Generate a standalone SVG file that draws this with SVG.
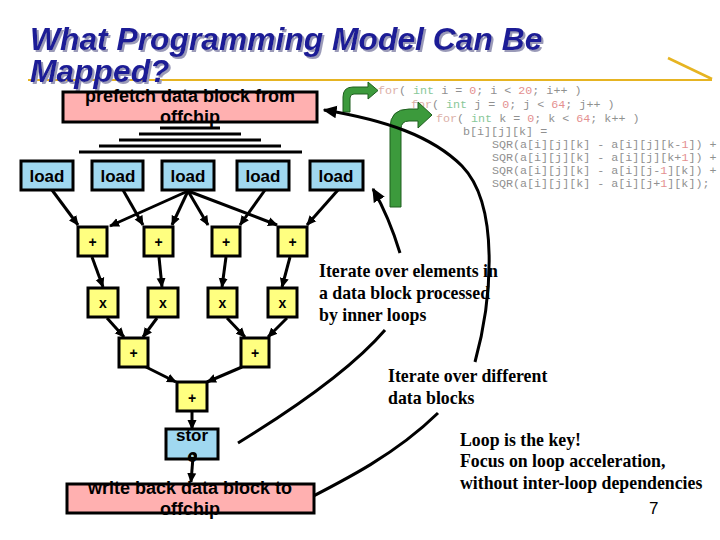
<svg xmlns="http://www.w3.org/2000/svg" width="720" height="540" viewBox="0 0 720 540">
<style>
.title{font-family:"Liberation Sans",Arial,sans-serif;font-weight:bold;font-style:italic;font-size:31.8px;fill:#1c1c96}
.nt{font-family:"Liberation Sans",Arial,sans-serif;font-weight:bold;fill:#000}
.box{stroke:#000;stroke-width:3}
.pink{fill:#ffb0b0}
.blue{fill:#a0d8f0}
.yel{fill:#ffff80}
.code{font-family:"Liberation Mono","Courier New",monospace;font-size:11.7px;fill:#909090}
.kw{fill:#dcb0a8}
.ty{fill:#88c898}
.num{fill:#e49090}
.lbl{font-family:"Liberation Serif","Times New Roman",serif;font-weight:bold;font-size:17.8px;fill:#000}
.edge{stroke:#000;stroke-width:3;fill:none}
.green{fill:#3c9a3c;stroke:#1e5e1e;stroke-width:1}
</style>
<defs>
<marker id="ah" viewBox="0 0 10 10" refX="9" refY="5" markerWidth="10" markerHeight="10" markerUnits="userSpaceOnUse" orient="auto"><path d="M0,0.5 L10,5 L0,9.5 z" fill="#000"/></marker>
<marker id="ahb" viewBox="0 0 10 10" refX="9" refY="5" markerWidth="14" markerHeight="14" markerUnits="userSpaceOnUse" orient="auto"><path d="M0,0.5 L10,5 L0,9.5 z" fill="#000"/></marker>
<filter id="shadow" x="-5%" y="-20%" width="110%" height="150%">
<feOffset in="SourceAlpha" dx="2" dy="2" result="o"/>
<feFlood flood-color="#9a9ab8"/>
<feComposite in2="o" operator="in" result="s"/>
<feMerge><feMergeNode in="s"/><feMergeNode in="SourceGraphic"/></feMerge>
</filter>
</defs>
<rect width="720" height="540" fill="#fff"/>

<g id="title-bar">
<line x1="28" y1="80" x2="712" y2="80" stroke="#e6b422" stroke-width="2"/>
<line x1="668" y1="58" x2="712" y2="79" stroke="#e6b422" stroke-width="2.5"/>
<g filter="url(#shadow)">
<text class="title" x="30" y="50">What Programming Model Can Be</text>
<text class="title" x="30" y="82">Mapped?</text>
</g>
</g>

<g id="code">
<text class="code" x="378" y="94"><tspan class="kw">for</tspan>( <tspan class="ty">int</tspan> i = <tspan class="num">0</tspan>; i &lt; <tspan class="num">20</tspan>; i++ )</text>
<text class="code" x="411" y="108"><tspan class="kw">for</tspan>( <tspan class="ty">int</tspan> j = <tspan class="num">0</tspan>; j &lt; <tspan class="num">64</tspan>; j++ )</text>
<text class="code" x="436" y="122"><tspan class="kw">for</tspan>( <tspan class="ty">int</tspan> k = <tspan class="num">0</tspan>; k &lt; <tspan class="num">64</tspan>; k++ )</text>
<text class="code" x="463" y="135">b[i][j][k] =</text>
<text class="code" x="492" y="148">SQR(a[i][j][k] - a[i][j][k-<tspan class="num">1</tspan>]) +</text>
<text class="code" x="492" y="161">SQR(a[i][j][k] - a[i][j][k+<tspan class="num">1</tspan>]) +</text>
<text class="code" x="492" y="174">SQR(a[i][j][k] - a[i][j-<tspan class="num">1</tspan>][k]) +</text>
<text class="code" x="492" y="187">SQR(a[i][j][k] - a[i][j+<tspan class="num">1</tspan>][k]);</text>
</g>

<g id="green-arrows">
<path class="green" d="M343,112 L343,97 Q343,87 353,87 L368,87 L368,82 L378,90.5 L368,99 L368,94 L354,94 Q350,94 350,98 L350,112 Z"/>
<path class="green" d="M390,207 L390,128 Q390,109 409,109 L418,109 L418,102 L432,115 L418,128 L418,121 L409,121 Q401,121 401,129 L401,207 Z"/>
</g>

<g id="funnel" stroke="#000" stroke-width="3">
<line x1="160" y1="128" x2="220" y2="128"/>
<line x1="139" y1="134" x2="241" y2="134"/>
<line x1="119" y1="140" x2="261" y2="140"/>
<line x1="99" y1="146" x2="281" y2="146"/>
<line x1="79" y1="152" x2="302" y2="152"/>
</g>

<g id="connectors">
<line class="edge" x1="52" y1="190" x2="78" y2="225" marker-end="url(#ah)"/>
<line class="edge" x1="123" y1="190" x2="143" y2="225" marker-end="url(#ah)"/>
<line class="edge" x1="188" y1="191" x2="110" y2="226" marker-end="url(#ah)"/>
<line class="edge" x1="188" y1="191" x2="172" y2="225" marker-end="url(#ah)"/>
<line class="edge" x1="188" y1="191" x2="208" y2="225" marker-end="url(#ah)"/>
<line class="edge" x1="188" y1="191" x2="277" y2="225" marker-end="url(#ah)"/>
<line class="edge" x1="265" y1="190" x2="240" y2="225" marker-end="url(#ah)"/>
<line class="edge" x1="338" y1="190" x2="307" y2="225" marker-end="url(#ah)"/>
<line class="edge" x1="92" y1="257" x2="103" y2="287" marker-end="url(#ah)"/>
<line class="edge" x1="159" y1="257" x2="162" y2="287" marker-end="url(#ah)"/>
<line class="edge" x1="226" y1="257" x2="222" y2="287" marker-end="url(#ah)"/>
<line class="edge" x1="290" y1="257" x2="282" y2="287" marker-end="url(#ah)"/>
<line class="edge" x1="107" y1="318" x2="124" y2="337" marker-end="url(#ah)"/>
<line class="edge" x1="157" y1="318" x2="143" y2="337" marker-end="url(#ah)"/>
<line class="edge" x1="227" y1="318" x2="245" y2="337" marker-end="url(#ah)"/>
<line class="edge" x1="287" y1="318" x2="268" y2="337" marker-end="url(#ah)"/>
<line class="edge" x1="146" y1="367" x2="176" y2="382" marker-end="url(#ah)"/>
<line class="edge" x1="242" y1="367" x2="207" y2="382" marker-end="url(#ah)"/>
<line class="edge" x1="192" y1="412" x2="192" y2="429" marker-end="url(#ah)"/>
<line class="edge" x1="193" y1="457" x2="191" y2="482" marker-end="url(#ah)"/>
<path class="edge" d="M475,362 C492,300 500,205 462,166 C432,136 385,120 324,110" marker-end="url(#ahb)"/>
<path class="edge" d="M400,253 C393,230 385,210 373,189" marker-end="url(#ahb)"/>
<path class="edge" d="M385,330 C355,365 300,405 238,443"/>
<path class="edge" d="M438,413 C395,455 345,480 292,507"/>
</g>

<g id="prefetch">
<rect class="box pink" x="63" y="92" width="254" height="30"/>
<text class="nt" x="190" y="102" font-size="18" text-anchor="middle">prefetch data block from</text>
<text class="nt" x="190" y="123" font-size="18" text-anchor="middle">offchip</text>
</g>

<g id="load1"><rect class="box blue" x="21" y="161" width="52" height="29"/><text class="nt" x="47" y="182" font-size="17" text-anchor="middle">load</text></g>
<g id="load2"><rect class="box blue" x="92" y="161" width="51" height="29"/><text class="nt" x="118" y="182" font-size="17" text-anchor="middle">load</text></g>
<g id="load3"><rect class="box blue" x="162" y="161" width="52" height="29"/><text class="nt" x="188" y="182" font-size="17" text-anchor="middle">load</text></g>
<g id="load4"><rect class="box blue" x="237" y="161" width="52" height="29"/><text class="nt" x="263" y="182" font-size="17" text-anchor="middle">load</text></g>
<g id="load5"><rect class="box blue" x="310" y="161" width="53" height="29"/><text class="nt" x="336" y="182" font-size="17" text-anchor="middle">load</text></g>

<g id="add1"><rect class="box yel" x="78" y="227" width="29" height="29"/><text class="nt" x="92.5" y="247" font-size="14" text-anchor="middle">+</text></g>
<g id="add2"><rect class="box yel" x="144" y="227" width="29" height="29"/><text class="nt" x="158.5" y="247" font-size="14" text-anchor="middle">+</text></g>
<g id="add3"><rect class="box yel" x="212" y="227" width="28" height="29"/><text class="nt" x="226" y="247" font-size="14" text-anchor="middle">+</text></g>
<g id="add4"><rect class="box yel" x="278" y="227" width="29" height="29"/><text class="nt" x="292.5" y="247" font-size="14" text-anchor="middle">+</text></g>

<g id="mul1"><rect class="box yel" x="88" y="288" width="30" height="29"/><text class="nt" x="103" y="308" font-size="14" text-anchor="middle">x</text></g>
<g id="mul2"><rect class="box yel" x="148" y="288" width="30" height="29"/><text class="nt" x="163" y="308" font-size="14" text-anchor="middle">x</text></g>
<g id="mul3"><rect class="box yel" x="208" y="288" width="29" height="29"/><text class="nt" x="222.5" y="308" font-size="14" text-anchor="middle">x</text></g>
<g id="mul4"><rect class="box yel" x="268" y="288" width="29" height="29"/><text class="nt" x="282.5" y="308" font-size="14" text-anchor="middle">x</text></g>

<g id="add5"><rect class="box yel" x="119" y="338" width="29" height="29"/><text class="nt" x="133.5" y="358" font-size="14" text-anchor="middle">+</text></g>
<g id="add6"><rect class="box yel" x="241" y="338" width="28" height="29"/><text class="nt" x="255" y="358" font-size="14" text-anchor="middle">+</text></g>
<g id="add7"><rect class="box yel" x="177" y="382" width="30" height="29"/><text class="nt" x="192" y="403" font-size="14" text-anchor="middle">+</text></g>

<g id="store">
<rect class="box blue" x="166" y="429" width="52" height="30"/>
<text class="nt" x="192" y="441" font-size="17" text-anchor="middle">stor</text>
<text class="nt" x="192" y="462" font-size="17" text-anchor="middle">e</text>
<circle cx="193" cy="456" r="3" fill="none" stroke="#000" stroke-width="2"/>
</g>

<g id="writeback">
<rect class="box pink" x="67" y="484" width="247" height="29"/>
<text class="nt" x="190" y="494" font-size="18" text-anchor="middle">write back data block to</text>
<text class="nt" x="190" y="515" font-size="18" text-anchor="middle">offchip</text>
</g>

<g id="labels">
<text class="lbl" x="319" y="277">Iterate over elements in</text>
<text class="lbl" x="319" y="299">a data block processed</text>
<text class="lbl" x="319" y="321">by inner loops</text>
<text class="lbl" x="388" y="382">Iterate over different</text>
<text class="lbl" x="388" y="404">data blocks</text>
<text class="lbl" x="460" y="446">Loop is the key!</text>
<text class="lbl" x="460" y="467">Focus on loop acceleration,</text>
<text class="lbl" x="460" y="489">without inter-loop dependencies</text>
<text x="649" y="514" font-family="Liberation Sans,Arial,sans-serif" font-size="17" fill="#000">7</text>
</g>
</svg>
